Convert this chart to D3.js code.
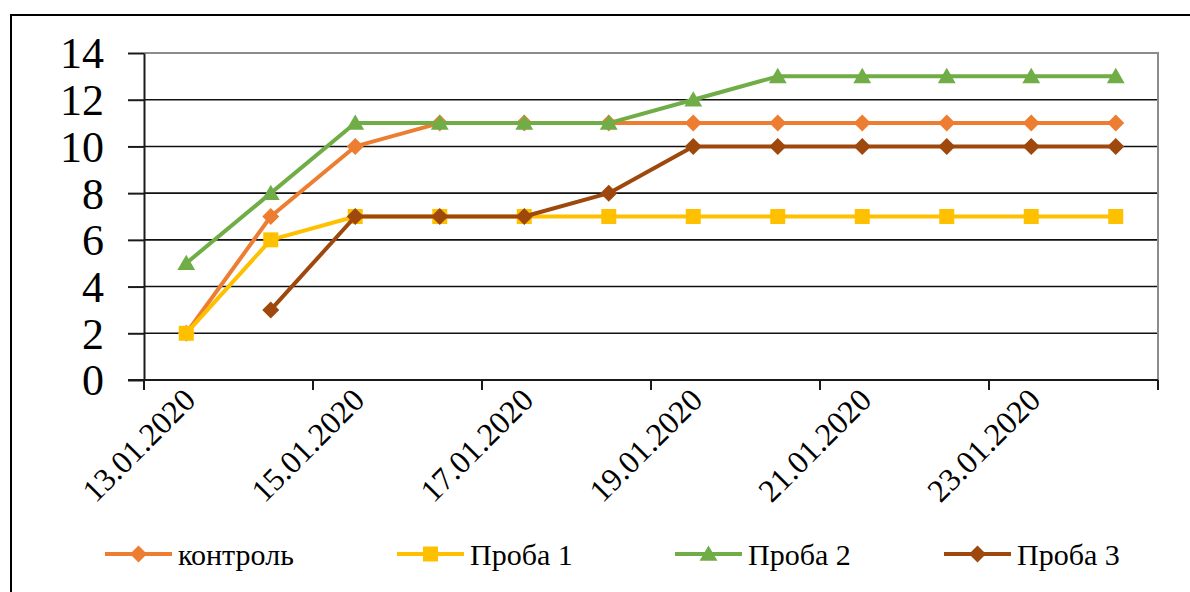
<!DOCTYPE html>
<html>
<head>
<meta charset="utf-8">
<script src="https://cdn.jsdelivr.net/npm/d3@7/dist/d3.min.js"></script>
<style>
  html, body { margin: 0; padding: 0; background: #fff; }
  svg { display: block; }
</style>
</head>
<body>
<svg id="chart" width="1190" height="592"></svg>
<script>
// Dates of observation (one per day)
const dates = ["13.01.2020", "14.01.2020", "15.01.2020", "16.01.2020", "17.01.2020", "18.01.2020",
               "19.01.2020", "20.01.2020", "21.01.2020", "22.01.2020", "23.01.2020", "24.01.2020"];

// Series values
const kontrol = [2, 7, 10, 11, 11, 11, 11, 11, 11, 11, 11, 11];
const proba1  = [2, 6, 7, 7, 7, 7, 7, 7, 7, 7, 7, 7];
const proba2  = [5, 8, 11, 11, 11, 11, 12, 13, 13, 13, 13, 13];
const proba3  = [null, 3, 7, 7, 7, 8, 10, 10, 10, 10, 10, 10];

const seriesNames = ["контроль", "Проба 1", "Проба 2", "Проба 3"];
const yTicks = [0, 2, 4, 6, 8, 10, 12, 14];

const SERIF = "'Liberation Serif', 'Times New Roman', serif";

const series = [
  { name: seriesNames[0], values: kontrol, color: "#ED7D31", marker: "diamond" },
  { name: seriesNames[1], values: proba1,  color: "#FFC000", marker: "square" },
  { name: seriesNames[2], values: proba2,  color: "#70AD47", marker: "triangle" },
  { name: seriesNames[3], values: proba3,  color: "#9E480E", marker: "diamond" }
];

const svg = d3.select("#chart");

// Outer chart frame
svg.append("path")
  .attr("d", "M11,600 L11,15 L1200,15")
  .attr("fill", "none").attr("stroke", "#000").attr("stroke-width", 2);

const plot = { left: 144, right: 1158, top: 53, bottom: 380 };

const x = d3.scaleBand().domain(dates).range([plot.left, plot.right]).paddingInner(0).paddingOuter(0);
const y = d3.scaleLinear().domain([0, 14]).range([plot.bottom, plot.top]);
const cx = d => x(d) + x.bandwidth() / 2;

// Horizontal gridlines
svg.append("g").selectAll("line")
  .data(yTicks.filter(t => t > 0 && t < 14))
  .join("line")
  .attr("x1", plot.left).attr("x2", plot.right)
  .attr("y1", d => y(d)).attr("y2", d => y(d))
  .attr("stroke", "#111").attr("stroke-width", 1.6);

// Plot area border (top and right)
svg.append("path")
  .attr("d", `M${plot.left},${y(14)} L${plot.right},${y(14)} L${plot.right},${plot.bottom}`)
  .attr("fill", "none").attr("stroke", "#8c8c8c").attr("stroke-width", 2);

// Y axis
const yAxis = d3.axisLeft(y).tickValues(yTicks).tickSize(16).tickSizeOuter(0).tickPadding(24);
const gy = svg.append("g").attr("transform", `translate(${plot.left},0)`).call(yAxis);
gy.attr("font-family", null).attr("font-size", null);
gy.select(".domain").attr("stroke", "#1a1a1a").attr("stroke-width", 2);
gy.selectAll(".tick line").attr("stroke", "#1a1a1a").attr("stroke-width", 2);
gy.selectAll(".tick text")
  .style("font-family", SERIF)
  .style("font-size", "44px").attr("fill", "#000")
  .attr("dy", "0.34em");

// X axis: ticks between categories every second date
const xTickPos = d3.range(0, dates.length + 1, 2).map(i => plot.left + i * x.bandwidth());
const gx = svg.append("g");
gx.append("line")
  .attr("x1", plot.left - 16).attr("x2", plot.right)
  .attr("y1", plot.bottom).attr("y2", plot.bottom)
  .attr("stroke", "#1a1a1a").attr("stroke-width", 2);
gx.selectAll("line.tk").data(xTickPos).join("line").attr("class", "tk")
  .attr("x1", d => d).attr("x2", d => d)
  .attr("y1", plot.bottom).attr("y2", plot.bottom + 10)
  .attr("stroke", "#1a1a1a").attr("stroke-width", 2);
gx.selectAll("text").data(dates.filter((d, i) => i % 2 === 0)).join("text")
  .attr("transform", d => `translate(${cx(d) + 11},${plot.bottom + 22}) rotate(-45)`)
  .attr("text-anchor", "end")
  .style("font-family", SERIF)
  .style("font-size", "32px")
  .attr("fill", "#000")
  .text(d => d);

// Marker shapes
function diamondPath(r) { return `M0,${-r}L${r},0L0,${r}L${-r},0Z`; }
function squarePath(s) { return `M${-s},${-s}H${s}V${s}H${-s}Z`; }
function trianglePath(r) { return `M0,${-r}L${r * 1.05},${r * 0.8}L${-r * 1.05},${r * 0.8}Z`; }
const shapes = {
  diamond: diamondPath(8.5),
  square: squarePath(7.5),
  triangle: trianglePath(8.5)
};

const line = d3.line()
  .defined(d => d.v !== null)
  .x(d => cx(d.date))
  .y(d => y(d.v));

series.forEach(s => {
  const pts = s.values.map((v, i) => ({ date: dates[i], v }));
  const g = svg.append("g");
  g.append("path").datum(pts)
    .attr("d", line)
    .attr("fill", "none").attr("stroke", s.color)
    .attr("stroke-width", 4).attr("stroke-linejoin", "round");
  g.selectAll("path.m").data(pts.filter(p => p.v !== null)).join("path").attr("class", "m")
    .attr("transform", p => `translate(${cx(p.date)},${y(p.v)})`)
    .attr("d", shapes[s.marker])
    .attr("fill", s.color);
});

// Legend
const legendX = [105, 397, 675, 944];
const legendY = 554;
const lg = svg.append("g");
series.forEach((s, i) => {
  const g = lg.append("g").attr("transform", `translate(${legendX[i]},${legendY})`);
  g.append("line").attr("x1", 0).attr("x2", 67).attr("y1", 0).attr("y2", 0)
    .attr("stroke", s.color).attr("stroke-width", 4);
  g.append("path").attr("transform", "translate(33.5,0)").attr("d", shapes[s.marker]).attr("fill", s.color);
  g.append("text").attr("x", 73).attr("y", 11)
    .style("font-family", SERIF).style("font-size", "30px")
    .attr("fill", "#000").text(s.name);
});
</script>
</body>
</html>
